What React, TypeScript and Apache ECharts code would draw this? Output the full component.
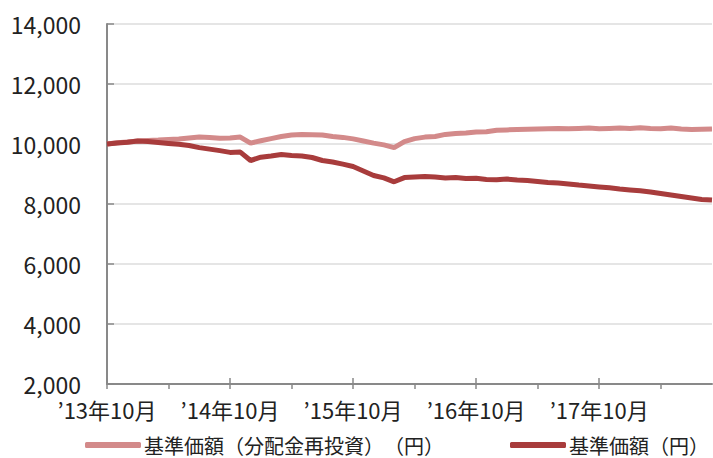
import React, { useEffect, useRef } from "react";
import * as echarts from "echarts";

// Monthly categories: 2013-10 .. 2018-09
const months: string[] = [];
for (let y = 2013; y <= 2018; y++) {
  for (let m = 1; m <= 12; m++) {
    if ((y === 2013 && m < 10) || (y === 2018 && m > 9)) continue;
    months.push(`${y}-${m}`);
  }
}

const seriesNames = ["基準価額（分配金再投資）（円）", "基準価額（円）"];

const reinvested = [
  10000, 10040, 10070, 10100, 10120, 10130, 10150, 10170, 10200, 10230, 10220, 10190,
  10200, 10230, 10030, 10110, 10180, 10250, 10300, 10320, 10310, 10300, 10250, 10220,
  10170, 10100, 10030, 9970, 9880, 10080, 10180, 10230, 10250, 10320, 10350, 10370,
  10400, 10410, 10460, 10470, 10480, 10490, 10500, 10510, 10520, 10510, 10520, 10530,
  10510, 10520, 10530, 10520, 10540, 10520, 10510, 10530, 10500, 10480, 10490, 10500,
];

const nav = [
  10000, 10030, 10060, 10100, 10080, 10050, 10020, 9990, 9950, 9880, 9830, 9780,
  9720, 9730, 9450, 9560, 9600, 9650, 9620, 9600, 9550, 9450, 9400, 9330,
  9250, 9100, 8950, 8870, 8740, 8880, 8900, 8920, 8900, 8870, 8880, 8850,
  8860, 8820, 8810, 8830, 8800, 8780, 8750, 8720, 8700, 8670, 8630, 8600,
  8570, 8540, 8500, 8470, 8440, 8400, 8350, 8300, 8250, 8200, 8150, 8130,
];

const yMin = 2000;
const yMax = 14000;
const yInterval = 2000;

function xLabel(cat: string): string {
  const [y, m] = cat.split("-");
  return `’${y.slice(2)}年${m}月`;
}

export default function App() {
  const ref = useRef<HTMLDivElement>(null);
  useEffect(() => {
    if (!ref.current) return;
    const chart = echarts.init(ref.current, undefined, { renderer: "svg" });
    const font = "'Noto Sans CJK JP', 'Noto Sans', sans-serif";
    const axisGray = "#898989";
    chart.setOption({
      animation: false,
      grid: { left: 107, right: 1, top: 24, bottom: 74, containLabel: false },
      legend: {
        data: seriesNames,
        left: 85,
        top: 435,
        padding: 0,
        itemWidth: 56,
        itemHeight: 6,
        itemGap: 76,
        icon: "roundRect",
        textStyle: { fontFamily: font, fontSize: 20, color: "#222", padding: [0, 0, 0, -2] },
      },
      xAxis: [
        {
          type: "category",
          data: months,
          boundaryGap: false,
          axisLine: { lineStyle: { color: axisGray, width: 2 } },
          axisTick: {
            show: true,
            alignWithLabel: true,
            interval: (i: number) => i % 6 === 0,
            length: 5,
            lineStyle: { color: axisGray, width: 1.5 },
          },
          axisLabel: {
            interval: (i: number) => i % 12 === 0,
            formatter: (v: string) => xLabel(v),
            fontFamily: font,
            fontSize: 22,
            lineHeight: 22,
            color: "#222",
            margin: 14,
          },
          splitLine: { show: false },
        },
        {
          type: "category",
          data: months,
          boundaryGap: false,
          position: "bottom",
          axisLine: { show: false },
          axisTick: {
            show: true,
            inside: true,
            interval: (i: number) => i % 12 === 0,
            length: 6,
            lineStyle: { color: axisGray, width: 1.5 },
          },
          axisLabel: { show: false },
          splitLine: { show: false },
        },
      ],
      yAxis: {
        type: "value",
        min: yMin,
        max: yMax,
        interval: yInterval,
        axisLine: { show: true, lineStyle: { color: axisGray, width: 2 } },
        axisTick: { show: true, inside: true, length: 7, lineStyle: { color: axisGray, width: 1.5 } },
        axisLabel: {
          formatter: (v: number) => v.toLocaleString("en-US"),
          fontFamily: font,
          fontSize: 23,
          lineHeight: 20,
          color: "#222",
          margin: 26,
        },
        splitLine: { show: true, lineStyle: { color: "#dcdcdc", width: 1.5 } },
      },
      series: [
        {
          name: seriesNames[0],
          type: "line",
          data: reinvested,
          showSymbol: false,
          symbol: "none",
          lineStyle: { color: "#d38a8a", width: 5 },
          itemStyle: { color: "#d38a8a" },
        },
        {
          name: seriesNames[1],
          type: "line",
          data: nav,
          showSymbol: false,
          symbol: "none",
          lineStyle: { color: "#a83c3c", width: 5 },
          itemStyle: { color: "#a83c3c" },
        },
      ],
    });
    return () => chart.dispose();
  }, []);
  return (
    <>
      <style>{"svg text { text-spacing-trim: space-all; }"}</style>
      <div
        ref={ref}
        style={{ position: "absolute", left: 0, top: 0, width: 713, height: 458 }}
      />
    </>
  );
}
